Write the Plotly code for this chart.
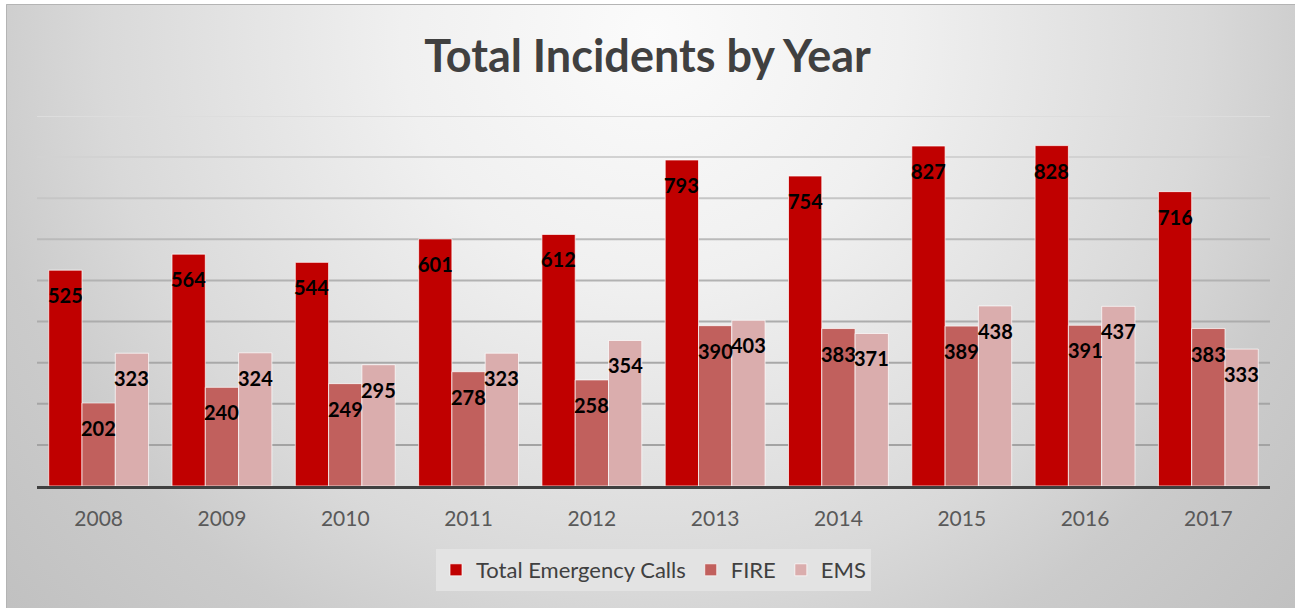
import base64
import plotly.graph_objects as go

# Incidents per year
years = ["2008", "2009", "2010", "2011", "2012", "2013", "2014", "2015", "2016", "2017"]
total_calls = [525, 564, 544, 601, 612, 793, 754, 827, 828, 716]
fire = [202, 240, 249, 278, 258, 390, 383, 389, 391, 383]
ems = [323, 324, 295, 323, 354, 403, 371, 438, 437, 333]

series = [
    ("Total Emergency Calls", total_calls, "#C00000"),
    ("FIRE", fire, "#C1605D"),
    ("EMS", ems, "#DAADAD"),
]

# gridline values and their shading (lighter towards the top)
grid_values = [100, 200, 300, 400, 500, 600, 700, 800, 900]
grid_colors = ["#a3a3a3", "#a5a5a5", "#a8a8a8", "#acacac", "#b2b2b2",
               "#bababa", "#c6c6c6", "#d2d2d2", "#dddddd"]

W, H = 1295, 608
L, R, T, B = 37, 25, 116, 122
plot_w = W - L - R
plot_h = H - T - B

fig = go.Figure()
for name, vals, color in series:
    fig.add_trace(go.Bar(
        x=years, y=vals, name=name,
        marker=dict(color=color, line=dict(color="rgba(255,255,255,0.7)", width=1)),
        hoverinfo="x+y+name",
    ))

# value labels just inside the top of each bar (x given as category index)
bar_px = plot_w / len(years) * 0.81 / 3
annotations = []
for i, (name, vals, color) in enumerate(series):
    for k, v in enumerate(vals):
        annotations.append(dict(
            x=k, y=v, xref="x", yref="y", text="<b>%d</b>" % v, showarrow=False,
            xshift=(i - 1) * bar_px, yshift=-25, yanchor="middle",
            font=dict(family="Lato", size=20, color="#000000"),
        ))

shapes = [
    dict(type="line", xref="paper", yref="y", x0=0, x1=1, y0=g, y1=g,
         line=dict(color=c, width=2), layer="below")
    for g, c in zip(grid_values, grid_colors)
]

# radial shaded backdrop
svg = (
    '<svg xmlns="http://www.w3.org/2000/svg" width="1289" height="604">'
    '<defs><radialGradient id="g" gradientUnits="userSpaceOnUse" cx="646" cy="30" r="860">'
    '<stop offset="0" stop-color="#fbfbfb"/>'
    '<stop offset="0.29" stop-color="#f0f0f0"/>'
    '<stop offset="0.64" stop-color="#d9d9d9"/>'
    '<stop offset="0.79" stop-color="#cbcbcb"/>'
    '<stop offset="1" stop-color="#c1c1c1"/>'
    '</radialGradient></defs>'
    '<rect x="0" y="0" width="1289" height="604" fill="url(#g)"/>'
    '<path d="M0.5 604 V0.5 H1289" stroke="#b4b4b4" stroke-width="1" fill="none"/>'
    '</svg>'
)
src = "data:image/svg+xml;base64," + base64.b64encode(svg.encode()).decode()

fig.update_layout(
    width=W, height=H,
    margin=dict(l=L, r=R, t=T, b=B, pad=0),
    paper_bgcolor="white",
    plot_bgcolor="rgba(0,0,0,0)",
    barmode="group", bargap=0.19, bargroupgap=0,
    title=dict(
        text="<b>Total Incidents by Year</b>", x=0.5, xanchor="center",
        y=1 - 56 / H, yanchor="middle", yref="container",
        font=dict(family="Lato", size=45, color="#404040"),
    ),
    xaxis=dict(
        type="category", autotypenumbers="strict",
        range=[-0.5, len(years) - 0.5],
        showgrid=False, showline=True, linecolor="#404040", linewidth=3,
        tickfont=dict(family="Lato", size=21, color="#595959"),
        ticks="", ticklabelstandoff=12,
    ),
    yaxis=dict(
        range=[0, 900], showgrid=False, zeroline=False, showticklabels=False,
        ticks="",
    ),
    legend=dict(
        orientation="h", x=0.5, xanchor="center", y=-(570 - 486) / plot_h,
        yanchor="middle", bgcolor="#e3e3e3",
        font=dict(family="Lato", size=22, color="#404040"),
        itemwidth=30, traceorder="normal",
        borderwidth=0,
    ),
    images=[dict(
        source=src, xref="paper", yref="paper",
        x=(6 - L) / plot_w, y=(H - B - 4) / plot_h,
        sizex=1289 / plot_w, sizey=604 / plot_h,
        xanchor="left", yanchor="top", sizing="stretch", layer="below",
    )],
    shapes=shapes,
    annotations=annotations,
    showlegend=True,
)

fig.write_html("out.html")
